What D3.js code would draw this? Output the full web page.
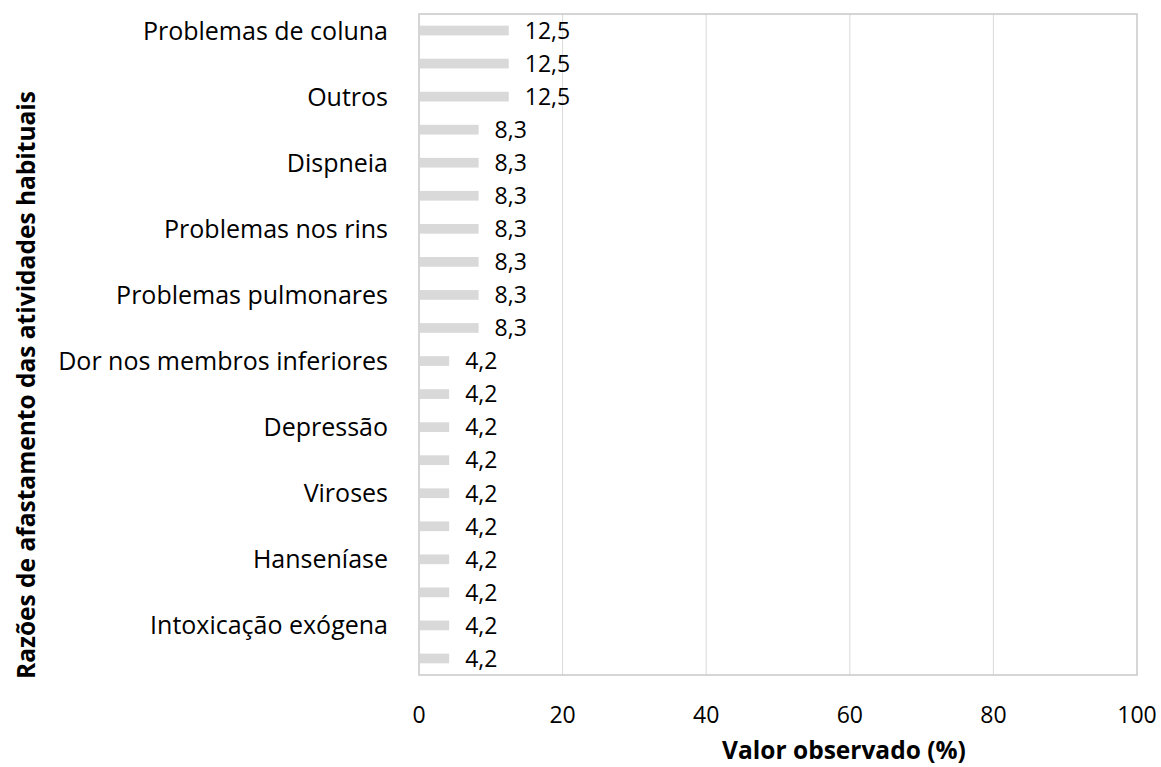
<!DOCTYPE html>
<html><head><meta charset="utf-8">
<script src="https://cdn.jsdelivr.net/npm/d3@7"></script>
<style>body{margin:0;background:#fff;} text{font-family:"Open Sans",sans-serif;}</style>
</head><body>
<svg id="c" width="1161" height="767"></svg>
<script>
const categories = ["Problemas de coluna","","Outros","","Dispneia","","Problemas nos rins","","Problemas pulmonares","","Dor nos membros inferiores","","Depressão","","Viroses","","Hanseníase","","Intoxicação exógena",""];
const values = [12.5,12.5,12.5,8.3,8.3,8.3,8.3,8.3,8.3,8.3,4.2,4.2,4.2,4.2,4.2,4.2,4.2,4.2,4.2,4.2];
const xTicks = [0,20,40,60,80,100];
const xTitle = "Valor observado (%)";
const yTitle = "Razões de afastamento das atividades habituais";

const svg = d3.select("#c");
const L=419, R=1137, T=14, B=675;
const x = d3.scaleLinear().domain([0,100]).range([L,R]);
const y = d3.scaleBand().domain(d3.range(values.length)).range([T,B]).paddingInner(0.706).paddingOuter(0.353);

svg.append("g").selectAll("line").data(xTicks.slice(1,-1)).join("line")
  .attr("x1",d=>x(d)).attr("x2",d=>x(d)).attr("y1",T).attr("y2",B)
  .attr("stroke","#d9d9d9").attr("stroke-width",1);
svg.append("rect").attr("x",L).attr("y",T).attr("width",R-L).attr("height",B-T)
  .attr("fill","none").attr("stroke","#c8c8c8").attr("stroke-width",1.5);

svg.append("g").selectAll("rect").data(values).join("rect")
  .attr("x",x(0)+1).attr("y",(d,i)=>y(i)).attr("height",y.bandwidth())
  .attr("width",d=>x(d)-x(0)-1).attr("fill","#d9d9d9");

svg.append("g").selectAll("text").data(values).join("text")
  .attr("x",d=>x(d)+16).attr("y",(d,i)=>y(i)+y.bandwidth()/2).attr("dy","0.36em")
  .attr("font-size",23).attr("fill","#000")
  .text(d=>d3.format(".1f")(d).replace(".",","));

svg.append("g").selectAll("text").data(categories).join("text")
  .attr("x",388).attr("y",(d,i)=>y(i)+y.bandwidth()/2).attr("dy","0.36em")
  .attr("text-anchor","end").attr("font-size",25).attr("fill","#000")
  .text(d=>d);

svg.append("g").selectAll("text").data(xTicks).join("text")
  .attr("x",d=>x(d)).attr("y",715).attr("dy","0.36em").attr("text-anchor","middle")
  .attr("font-size",23).attr("fill","#000").text(d=>d);

svg.append("text").attr("x",844).attr("y",750).attr("dy","0.36em").attr("text-anchor","middle")
  .attr("font-size",24.5).attr("font-weight","bold").text(xTitle);
svg.append("text").attr("transform",`translate(26,385) rotate(-90)`).attr("dy","0.36em")
  .attr("text-anchor","middle").attr("font-size",24.5).attr("font-weight","bold").text(yTitle);
</script>
</body></html>
